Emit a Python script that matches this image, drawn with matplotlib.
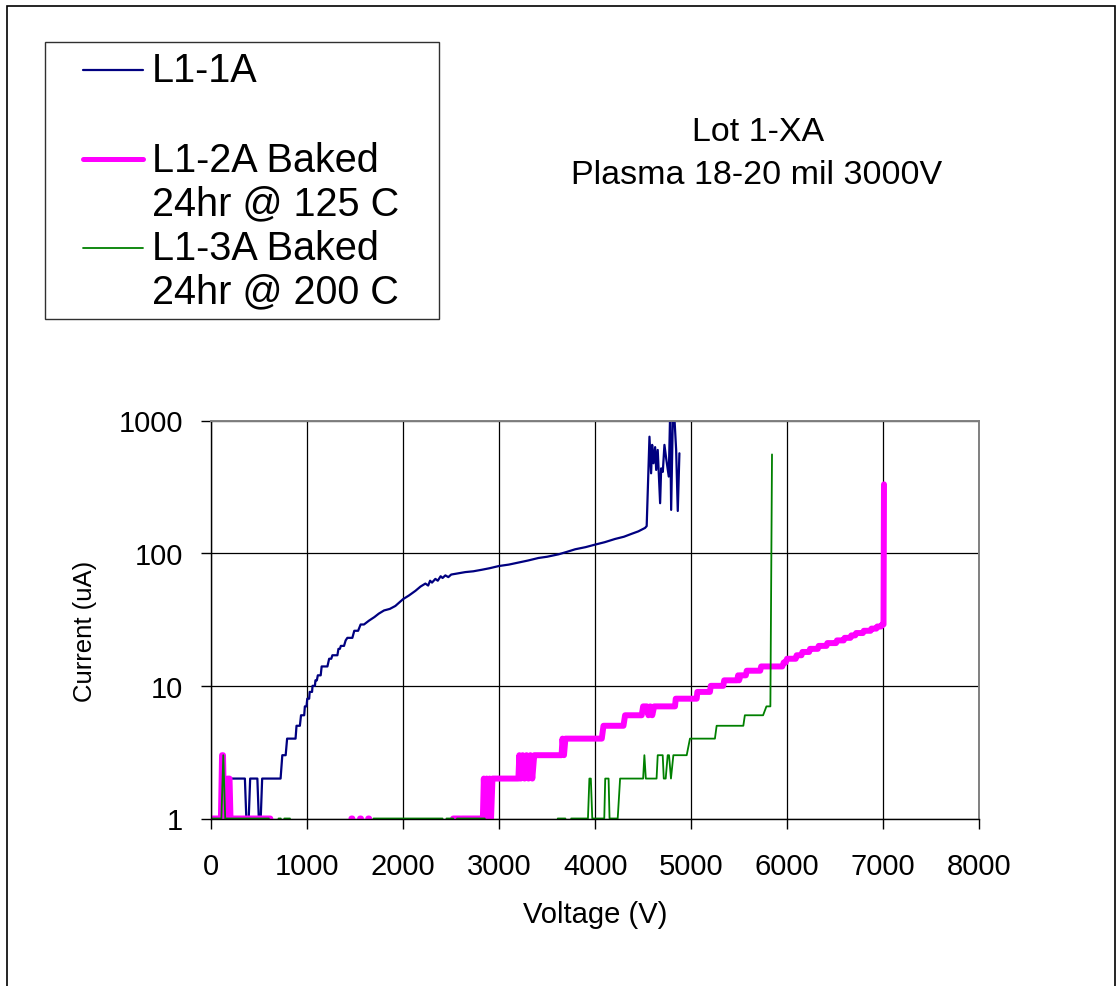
"""Leakage current vs voltage for Lot 1-XA (plasma 18-20 mil, 3000V)."""

import numpy as np
import matplotlib

matplotlib.use("Agg")
import matplotlib.pyplot as plt
from matplotlib.lines import Line2D
from matplotlib.patches import Rectangle
from matplotlib.ticker import FixedLocator, FixedFormatter, NullLocator

plt.rcParams["font.family"] = ["Liberation Sans", "DejaVu Sans"]

nan = np.nan

labels = ["L1-1A", "L1-2A Baked\n24hr @ 125 C", "L1-3A Baked\n24hr @ 200 C"]
colors = ["#000080", "#FF00FF", "#008000"]
widths = [1.6, 4.3, 1.3]

x_ticks = [0, 1000, 2000, 3000, 4000, 5000, 6000, 7000, 8000]
y_ticks = [1, 10, 100, 1000]

# L1-1A  (voltage V, current uA)
v1 = [0, 150, 180, 350, 365, 390, 405, 480, 495, 515,
      530, 722, 740, 775, 790, 878, 888, 923, 935, 968,
      975, 992, 1000, 1020, 1025, 1050, 1055, 1080, 1085, 1100,
      1110, 1140, 1150, 1210, 1228, 1250, 1262, 1314, 1325, 1340,
      1350, 1383, 1400, 1418, 1470, 1490, 1530, 1556, 1591, 1643,
      1700, 1745, 1800, 1860, 1918, 1998, 2060, 2127, 2180, 2231,
      2260, 2280, 2300, 2335, 2360, 2390, 2410, 2439, 2470, 2500,
      2550, 2647, 2730, 2820, 2900, 2997, 3100, 3202, 3300, 3410,
      3500, 3618, 3700, 3792, 3900, 3999, 4100, 4208, 4300, 4381,
      4450, 4520, 4537, 4566, 4583, 4594, 4608, 4625, 4636, 4652,
      4677, 4688, 4705, 4722, 4740, 4767, 4781, 4792, 4809, 4826,
      4844, 4861, 4878]
i1 = [1, 1, 2, 2, 1, 1, 2, 2, 1, 1,
      2, 2, 3, 3, 4, 4, 5, 5, 6, 6,
      7, 7, 8, 8, 9, 9, 10, 10, 11, 11,
      12, 12, 14, 14, 16, 16, 17, 17, 19, 19,
      20, 20, 22, 23, 23, 26, 26, 29, 29, 31,
      33, 35, 37, 38, 40, 45, 48, 52, 56, 59,
      57, 62, 60, 64, 62, 67, 65, 68, 66, 69,
      70, 72, 73, 75, 77, 80, 82, 85, 88, 92,
      94, 98, 102, 107, 111, 116, 121, 128, 133, 140,
      146, 155, 160, 755, 400, 655, 476, 630, 424, 600,
      238, 436, 410, 655, 519, 378, 1100, 212, 1000, 1050,
      600, 208, 566]

# L1-2A baked 24hr @ 125 C (nan = zero reading, not shown on log axis)
v2 = [0, 100, 112, 122, 135, 160, 170, 190, 200, 615,
      nan, 1460, 1470, nan, 1550, 1560, nan, 1635, 1645, nan,
      2520, 2590, nan, 2610, 2830, 2840, 2855, 2870, 2885, 2900,
      2915, 2930, 3200, 3210, 3225, 3245, 3265, 3285, 3305, 3325,
      3345, 3365, 3375, 3650, 3660, 3675, 3690, 4069, 4087, 4295,
      4312, 4485, 4500, 4540, 4555, 4575, 4595, 4615, 4832, 4840,
      5058, 5065, 5196, 5205, 5335, 5345, 5480, 5490, 5500, 5515,
      5570, 5580, 5720, 5730, 5950, 5965, 5985, 6000, 6090, 6100,
      6150, 6160, 6230, 6240, 6320, 6330, 6410, 6420, 6510, 6520,
      6590, 6600, 6660, 6670, 6710, 6720, 6790, 6800, 6870, 6880,
      6930, 6940, 6980, 6990, 7005, 7010]
i2 = [1, 1, 3, 3, 1, 1, 2, 2, 1, 1,
      nan, 1, 1, nan, 1, 1, nan, 1, 1, nan,
      1, 1, nan, 1, 1, 2, 1, 2, 1, 2,
      1, 2, 2, 3, 2, 3, 2, 3, 2, 3,
      2, 3, 3, 3, 4, 3, 4, 4, 5, 5,
      6, 6, 7, 7, 6, 7, 6, 7, 7, 8,
      8, 9, 9, 10, 10, 11, 11, 12, 11, 12,
      12, 13, 13, 14, 14, 15, 15, 16, 16, 17,
      17, 18, 18, 19, 19, 20, 20, 21, 21, 22,
      22, 23, 23, 24, 24, 25, 25, 26, 26, 27,
      27, 28, 28, 29, 29, 330]

# L1-3A baked 24hr @ 200 C
v3 = [0, 105, 125, 145, 600, nan, 700, 725, nan, 760,
      820, nan, 1690, 2410, nan, 2450, 2520, nan, 2560, 2850,
      nan, 3610, 3690, nan, 3750, 3925, 3940, 3955, 3970, 4095,
      4105, 4140, 4150, 4235, 4260, 4500, 4513, 4528, 4640, 4652,
      4704, 4715, 4735, 4756, 4770, 4790, 4815, 4954, 4988, 5248,
      5266, 5544, 5560, 5750, 5785, 5826, 5843]
i3 = [1, 1, 3, 1, 1, nan, 1, 1, nan, 1,
      1, nan, 1, 1, nan, 1, 1, nan, 1, 1,
      nan, 1, 1, nan, 1, 1, 2, 2, 1, 1,
      2, 2, 1, 1, 2, 2, 3, 2, 2, 3,
      3, 2, 2, 3, 3, 2, 3, 3, 4, 4,
      5, 5, 6, 6, 7, 7, 555]

W, H = 1118, 987


def fx(x):
    return x / W


def fy(y):
    return 1 - y / H


def main() -> None:
    fig = plt.figure(figsize=(W / 100, H / 100), dpi=100)
    ax = fig.add_axes([fx(211.3), fy(819.5), fx(979) - fx(211.3), fy(421.5) - fy(819.5)])

    series = [(v1, i1), (v2, i2), (v3, i3)]
    for (v, i), c, lw in zip(series, colors, widths):
        ax.plot(v, i, color=c, lw=lw, solid_capstyle="round", solid_joinstyle="round")

    ax.set_yscale("log")
    ax.set_xlim(0, 8000)
    ax.set_ylim(1, 1000)
    ax.xaxis.set_major_locator(FixedLocator(x_ticks))
    ax.yaxis.set_major_locator(FixedLocator(y_ticks))
    ax.yaxis.set_major_formatter(FixedFormatter([str(t) for t in y_ticks]))
    ax.yaxis.set_minor_locator(NullLocator())
    ax.tick_params(axis="both", direction="out", length=7.2, width=1, labelsize=21, color="black")
    ax.tick_params(axis="x", pad=17)
    ax.tick_params(axis="y", pad=13)

    ax.grid(True, color="black", lw=0.9)
    ax.set_axisbelow(True)
    for side in ("top", "right"):
        ax.spines[side].set_color("#808080")
        ax.spines[side].set_linewidth(1.4)
    for side in ("left", "bottom"):
        ax.spines[side].set_color("black")
        ax.spines[side].set_linewidth(1)

    ax.set_xlabel("Voltage (V)", fontsize=21, va="center")
    ax.set_ylabel("Current (uA)", fontsize=18.5, va="center")
    ax.xaxis.set_label_coords(0.5007, (819.5 - 915) / 398)
    ax.yaxis.set_label_coords((85 - 211.3) / 767.7, (819.5 - 631) / 398)

    # chart title block
    fig.text(fx(758), fy(141), "Lot 1-XA", fontsize=24.5, ha="center", va="baseline")
    fig.text(fx(757), fy(184), "Plasma 18-20 mil 3000V", fontsize=24.5, ha="center", va="baseline")

    # legend box drawn like the spreadsheet one
    fig.add_artist(Rectangle((fx(45), fy(320)), fx(439) - fx(45), fy(43) - fy(320),
                             transform=fig.transFigure, fill=False, ec="#303030", lw=1))
    handle_y = [71, 160, 249]
    text_y = [[81.7], [171.7, 215], [260, 303.3]]
    for label, c, lw, hy, ty in zip(labels, colors, widths, handle_y, text_y):
        fig.add_artist(Line2D([fx(83), fx(143)], [fy(hy), fy(hy)], color=c, lw=min(lw, 3.6),
                              solid_capstyle="round", transform=fig.transFigure))
        for line, y in zip(label.split("\n"), ty):
            fig.text(fx(152), fy(y), line, fontsize=28.5, ha="left", va="baseline")

    # outer chart border
    fig.add_artist(Rectangle((fx(7), -0.01), fx(1115) - fx(7), fy(7) + 0.01,
                             transform=fig.transFigure, fill=False, ec="black", lw=1.2))

    fig.savefig("out.png", dpi=100)


if __name__ == "__main__":
    main()
